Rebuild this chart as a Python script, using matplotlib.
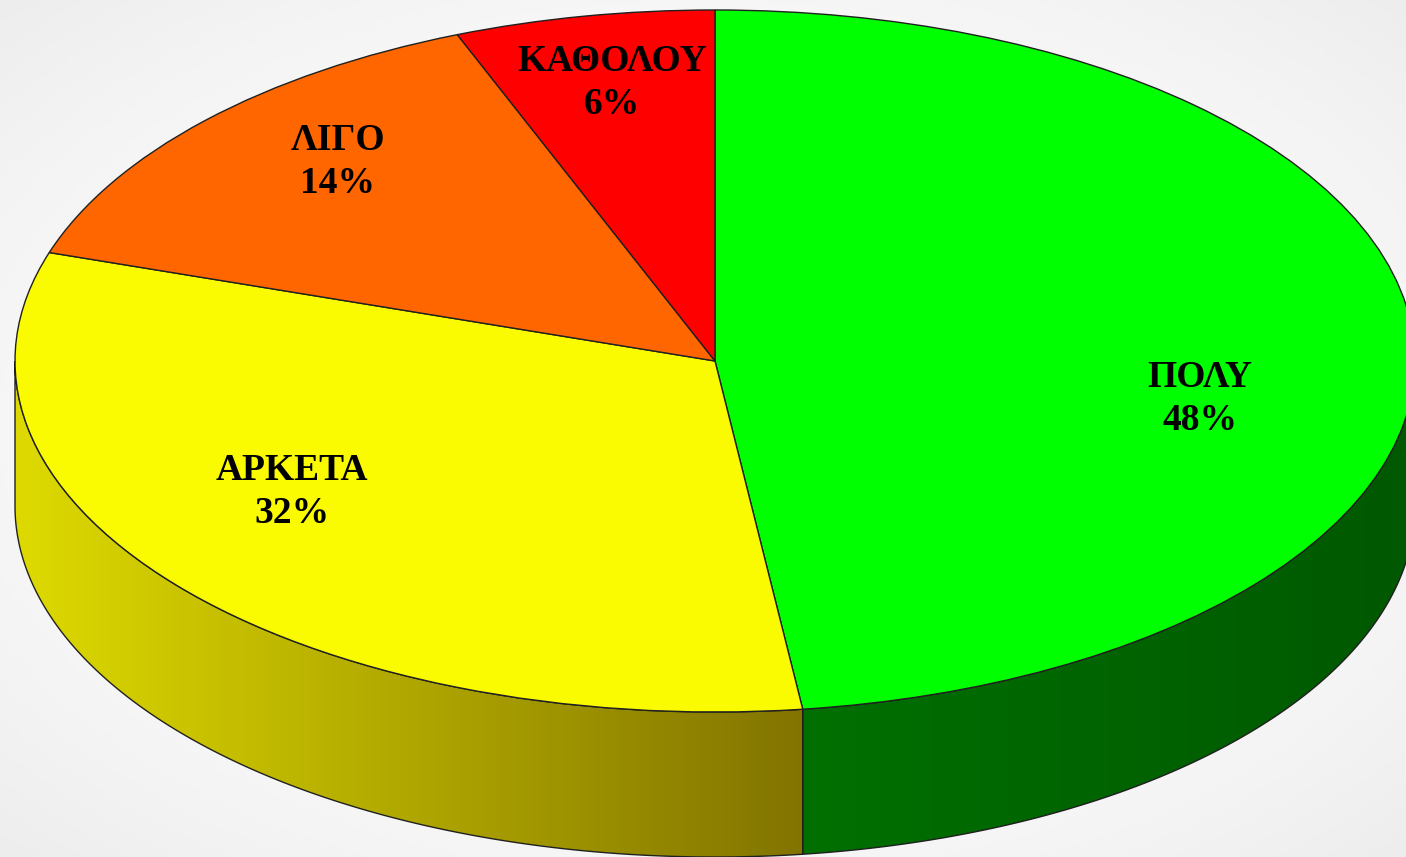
import numpy as np
import matplotlib
matplotlib.use("Agg")
import matplotlib.pyplot as plt
from matplotlib.patches import Wedge, Polygon

# Datos del gráfico
labels = ["ΠΟΛΥ", "ΑΡΚΕΤΑ", "ΛΙΓΟ", "ΚΑΘΟΛΟΥ"]
values = [48, 32, 14, 6]
top_colors = ["#00ff00", "#fafa00", "#ff6600", "#ff0000"]
# colores del lateral (izquierda -> derecha)
side_colors = {
    0: ((0, 112, 0), (0, 88, 0)),
    1: ((222, 218, 0), (130, 116, 0)),
    2: ((200, 80, 0), (150, 60, 0)),
    3: ((200, 0, 0), (150, 0, 0)),
}
# posición de las etiquetas (en unidades del radio)
label_pos = [(0.693, -0.108), (-0.604, -0.373), (-0.539, 0.567), (-0.147, 0.792)]

W, H = 1406, 857
cx, cy, rx, ry = 715, 361, 700, 351
depth = 145 / ry

fig = plt.figure(figsize=(W / 100, H / 100), dpi=100)
ax = fig.add_axes([0, 0, 1, 1])
xlim = (-cx / rx, (W - cx) / rx)
ylim = (-(H - cy) / ry, cy / ry)
ax.set_xlim(*xlim)
ax.set_ylim(*ylim)
ax.axis("off")

# Fondo con degradado suave
gx, gy = np.meshgrid(np.linspace(-1, 1, 300), np.linspace(-1, 1, 200))
rr = np.clip(np.sqrt(gx ** 2 + gy ** 2) / 1.414, 0, 1)
bg = 1.0 - 0.07 * rr ** 2
ax.imshow(np.dstack([bg, bg, bg]), extent=[*xlim, *ylim], aspect="auto", zorder=0)

# ángulos (sentido horario desde arriba)
total = float(sum(values))
angles = []
start = 90.0
for v in values:
    end = start - 360.0 * v / total
    angles.append((end, start))
    start = end

# Laterales (solo mitad frontal)
for i, (a1, a2) in enumerate(angles):
    for lo, hi in [(-180, 0), (180, 360), (-540, -360)]:
        t1, t2 = max(a1, lo), min(a2, hi)
        if t2 <= t1:
            continue
        t = np.radians(np.linspace(t1, t2, 200))
        xs, ys = np.cos(t), np.sin(t)
        pts = np.concatenate([np.column_stack([xs, ys]),
                              np.column_stack([xs[::-1], ys[::-1] - depth])])
        poly = Polygon(pts, closed=True, facecolor="none", edgecolor="#202020",
                       linewidth=1.0, zorder=3)
        ax.add_patch(poly)
        c0, c1 = side_colors[i]
        x0, x1 = xs.min(), xs.max()
        f = np.linspace(0, 1, 256)
        grad = np.array([[(c0[k] + (c1[k] - c0[k]) * ff) / 255 for k in range(3)] for ff in f])
        img = ax.imshow(grad[np.newaxis, :, :], extent=[x0, x1, ys.min() - depth, ys.max()],
                        aspect="auto", zorder=2)
        clip = Polygon(pts, closed=True, transform=ax.transData)
        img.set_clip_path(clip)

# Cara superior
for i, (a1, a2) in enumerate(angles):
    w = Wedge((0, 0), 1.0, a1, a2, facecolor=top_colors[i], edgecolor="#202020",
              linewidth=1.0, zorder=4)
    ax.add_patch(w)

# Etiquetas
for i, name in enumerate(labels):
    pct = f"{values[i] / total * 100:.0f}%"
    x, y = label_pos[i]
    ax.text(x, y, f"{name}\n{pct}", ha="center", va="center", fontsize=27,
            fontweight="bold", family="Liberation Serif", color="black",
            linespacing=1.3, zorder=5)

fig.savefig("out.png", dpi=100)
